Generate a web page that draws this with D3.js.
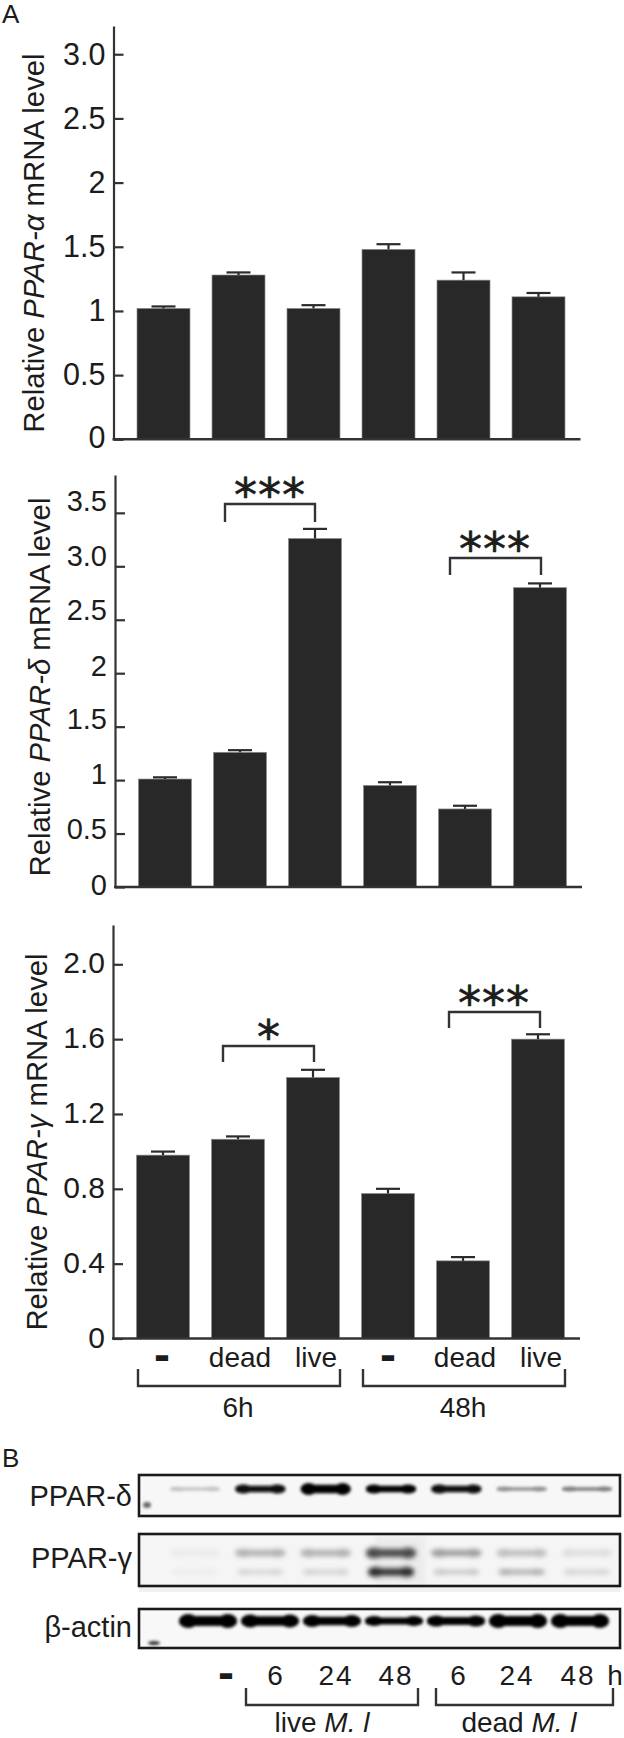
<!DOCTYPE html>
<html><head><meta charset="utf-8">
<script src="https://cdn.jsdelivr.net/npm/d3@7/dist/d3.min.js"></script>
<style>html,body{margin:0;padding:0;background:#fff}svg{display:block}text{font-family:"Liberation Sans",Arial,sans-serif;fill:#1c1c1c}</style>
</head><body><div id="c"></div>
<script>
// ---- data ----
const groups = ["-","dead","live","-","dead","live"];
const ids = ["a","b","c","d","e","f"];
const alphaMean = [1.02,1.28,1.02,1.48,1.24,1.11];
const alphaTop  = [1.035,1.30,1.045,1.52,1.30,1.14];
const deltaMean = [1.01,1.26,3.26,0.95,0.73,2.80];
const deltaTop  = [1.026,1.28,3.35,0.98,0.76,2.84];
const gammaMean = [0.98,1.065,1.395,0.775,0.415,1.60];
const gammaTop  = [0.999,1.08,1.436,0.80,0.435,1.626];
const alphaTicks = [[0,"0"],[0.5,"0.5"],[1,"1"],[1.5,"1.5"],[2,"2"],[2.5,"2.5"],[3,"3.0"]];
const deltaTicks = [[0,"0"],[0.5,"0.5"],[1,"1"],[1.5,"1.5"],[2,"2"],[2.5,"2.5"],[3,"3.0"],[3.5,"3.5"]];
const gammaTicks = [[0,"0"],[0.4,"0.4"],[0.8,"0.8"],[1.2,"1.2"],[1.6,"1.6"],[2,"2.0"]];
const lanes = ["-","L6","L24","L48","D6","D24","D48"];
const laneLabels = ["-","6","24","48","6","24","48"];
const deltaBand = [0.2,0.97,1,1,0.97,0.42,0.5];
const gammaUpper = [0.05,0.3,0.3,0.72,0.38,0.24,0.1];
const gammaLower = [0.04,0.14,0.15,0.85,0.2,0.32,0.14];
const actinBand = [1,1,1,1,1,1,1];

// ---- drawing ----
const W=624,H=1738;
const svg=d3.select("#c").append("svg").attr("width",W).attr("height",H).attr("viewBox",[0,0,W,H]);
svg.append("rect").attr("width",W).attr("height",H).attr("fill","#fff");
const defs=svg.append("defs");
defs.append("filter").attr("id","b1").attr("x","-20%").attr("y","-60%").attr("width","140%").attr("height","220%")
  .append("feGaussianBlur").attr("stdDeviation",1.6);
defs.append("filter").attr("id","b2").attr("x","-20%").attr("y","-80%").attr("width","140%").attr("height","260%")
  .append("feGaussianBlur").attr("stdDeviation",2.4);

const barFill="#282828";

function panel(o){
  const g=svg.append("g").attr("transform",`translate(${o.x},0)`);
  const x=d3.scaleBand().domain(ids).range([23.5,451.5]).paddingInner(22/75).paddingOuter(0);
  const y=d3.scaleLinear().domain([0,o.max]).range([o.base,o.top]);
  g.selectAll("rect.bar").data(ids).join("rect").attr("class","bar")
    .attr("x",d=>x(d)).attr("width",x.bandwidth())
    .attr("y",(d,i)=>y(o.mean[i])).attr("height",(d,i)=>o.base-y(o.mean[i]))
    .attr("fill",barFill).attr("stroke","#8d8d8d").attr("stroke-width",0.7);
  const cx=d=>x(d)+x.bandwidth()/2;
  g.selectAll("line.e").data(ids).join("line").attr("class","e")
    .attr("x1",cx).attr("x2",cx).attr("y1",(d,i)=>y(o.mean[i])).attr("y2",(d,i)=>y(o.top_[i]))
    .attr("stroke","#2b2b2b").attr("stroke-width",2.2);
  g.selectAll("line.c").data(ids).join("line").attr("class","c")
    .attr("x1",d=>cx(d)-12).attr("x2",d=>cx(d)+12).attr("y1",(d,i)=>y(o.top_[i])).attr("y2",(d,i)=>y(o.top_[i]))
    .attr("stroke","#2b2b2b").attr("stroke-width",2.2);
  const axis=d3.axisLeft(y).tickValues(o.ticks.map(t=>t[0])).tickFormat(v=>o.ticks.find(t=>t[0]===v)[1])
    .tickSizeInner(-10).tickSizeOuter(0).tickPadding(8);
  const ag=g.append("g").call(axis);
  ag.selectAll("path,line").attr("stroke","#333").attr("stroke-width",2.2);
  ag.selectAll("text").attr("font-size",o.fs).attr("font-family",'"Liberation Sans"').attr("fill","#1c1c1c")
    .attr("transform",(d,i)=>`translate(0,${o.labelShift(i)})`);
  g.append("line").attr("x1",-1).attr("x2",467).attr("y1",o.base).attr("y2",o.base).attr("stroke","#333").attr("stroke-width",2.4);
  const t=svg.append("text").attr("transform",`translate(${o.tx},${o.ty}) rotate(-90)`).attr("text-anchor","middle").attr("font-size",o.tfs);
  t.append("tspan").text("Relative ");
  t.append("tspan").attr("font-style","italic").text("PPAR-"+o.greek);
  t.append("tspan").text(" mRNA level");
}
function bracket(x1,x2,yTop,yBot,down){
  const p=d3.path();
  if(down){p.moveTo(x1,yTop);p.lineTo(x1,yBot);p.lineTo(x2,yBot);p.lineTo(x2,yTop);}
  else{p.moveTo(x1,yBot);p.lineTo(x1,yTop);p.lineTo(x2,yTop);p.lineTo(x2,yBot);}
  svg.append("path").attr("d",p.toString()).attr("fill","none").attr("stroke","#333").attr("stroke-width",2.4);
}
function stars(s,xc,yc){
  svg.append("text").attr("x",xc).attr("y",yc).attr("text-anchor","middle").attr("font-size",46).attr("letter-spacing","1px")
    .style("font-family",'"DejaVu Sans"').attr("fill","#1a1a1a").attr("stroke","#1a1a1a").attr("stroke-width",0.6).text(s);
}
svg.append("text").attr("x",2).attr("y",23).attr("font-size",26).text("A");
svg.append("text").attr("x",2).attr("y",1467).attr("font-size",26).text("B");

const deltaShift=[-2,-4,-6,-7,-7,-10,-10,-12];
panel({x:113.5,base:439.3,top:26,max:3.22,mean:alphaMean,top_:alphaTop,ticks:alphaTicks,fs:30.5,tfs:29.3,tx:44,ty:243,greek:"α",labelShift:i=>i===0?-2:0});
panel({x:115,base:887,top:475,max:3.854,mean:deltaMean,top_:deltaTop,ticks:deltaTicks,fs:29,tfs:29.3,tx:50,ty:687,greek:"δ",labelShift:i=>deltaShift[i]});
panel({x:113,base:1338.5,top:925,max:2.21,mean:gammaMean,top_:gammaTop,ticks:gammaTicks,fs:30,tfs:29.3,tx:47,ty:1142,greek:"γ",labelShift:()=>-1});

bracket(225,315,504,522); stars("***",270,511);
bracket(450,541,558,575); stars("***",495,565);
bracket(223,314,1046,1062); stars("*",269,1053);
bracket(449,540,1012,1028); stars("***",494,1019);

const xLab=[162,240,316,388,465,541];
svg.selectAll("text.g").data(groups).join("text").attr("class","g")
  .attr("x",(d,i)=>xLab[i]).attr("y",d=>d==="-"?1371:1367).attr("text-anchor","middle").attr("font-size",d=>d==="-"?48:28)
  .attr("font-weight",d=>d==="-"?"bold":"normal").text(d=>d);
bracket(138,340,1369,1386,true); bracket(363,565,1369,1386,true);
svg.append("text").attr("x",238).attr("y",1417).attr("text-anchor","middle").attr("font-size",28).text("6h");
svg.append("text").attr("x",463).attr("y",1417).attr("text-anchor","middle").attr("font-size",28).text("48h");

// ---- blots ----
const boxX=[139,620];
const laneX=d3.scalePoint().domain(lanes).range([195,587]);
const actinX=d3.scalePoint().domain(lanes).range([208,580]);
const shade=d3.scaleLinear().domain([0,1]).range(["#f6f6f6","#050505"]);
function blotBox(y1,y2,bg){
  svg.append("rect").attr("x",boxX[0]).attr("y",y1).attr("width",boxX[1]-boxX[0]).attr("height",y2-y1).attr("fill",bg);
}
function boxFrame(y1,y2){
  svg.append("rect").attr("x",boxX[0]).attr("y",y1).attr("width",boxX[1]-boxX[0]).attr("height",y2-y1)
    .attr("fill","none").attr("stroke","#1a1a1a").attr("stroke-width",2.6);
}
function bands(values,sc,yc,w,hFn,filt){
  const g=svg.append("g").attr("filter",`url(#${filt})`);
  lanes.forEach((l,i)=>{
    const v=values[i], c=sc(l), h=hFn(v,i);
    g.append("rect").attr("x",c-w/2).attr("y",yc-h*0.36).attr("width",w).attr("height",h*0.72).attr("rx",h*0.36).attr("fill",shade(v));
    g.append("ellipse").attr("cx",c-w/2+w*0.16).attr("cy",yc).attr("rx",w*0.16).attr("ry",h/2).attr("fill",shade(v));
    g.append("ellipse").attr("cx",c+w/2-w*0.16).attr("cy",yc).attr("rx",w*0.16).attr("ry",h/2).attr("fill",shade(v));
  });
}
function smudge(cx,cy,rx,ry,col){
  svg.append("ellipse").attr("cx",cx).attr("cy",cy).attr("rx",rx).attr("ry",ry).attr("fill",col).attr("filter","url(#b1)");
}
blotBox(1475,1516,"#f7f7f7");
bands(deltaBand,laneX,1489,50,(v,i)=>i===2?12:(v>0.9?9:5),"b1");
smudge(147,1505,4,3,"#666");
boxFrame(1475,1516);

svg.append("rect").attr("x",139).attr("y",1586).attr("width",481).attr("height",6).attr("fill","#f1f1f1");
blotBox(1534,1586,"#f5f5f5");
svg.append("rect").attr("x",375).attr("y",1536).attr("width",50).attr("height",48).attr("fill","#ececec").attr("filter","url(#b2)");
bands(gammaUpper,laneX,1553,50,v=>v>0.5?11:8,"b2");
bands(gammaLower,laneX,1572,46,v=>v>0.5?10:6,"b2");
boxFrame(1534,1586);

blotBox(1609,1648,"#f8f8f8");
bands(actinBand,actinX,1621,58,(v,i)=>[14,13,12,10,11,14,14][i],"b1");
smudge(154,1643,6,2,"#333");
boxFrame(1609,1648);

[["PPAR-δ",1506],["PPAR-γ",1568],["β-actin",1637]].forEach(([s,y])=>{
  svg.append("text").attr("x",132).attr("y",y).attr("text-anchor","end").attr("font-size",29).text(s);
});
const laneLabX=[226,275,336,396,458,517,578];
svg.selectAll("text.l").data(laneLabels).join("text").attr("class","l")
  .attr("x",(d,i)=>laneLabX[i]).attr("y",d=>d==="-"?1689:1685).attr("text-anchor","middle").attr("font-size",d=>d==="-"?48:28)
  .attr("letter-spacing",d=>d.length>1?"2px":"0").attr("font-weight",d=>d==="-"?"bold":"normal").text(d=>d);
svg.append("text").attr("x",615).attr("y",1685).attr("text-anchor","middle").attr("font-size",28).text("h");
bracket(246,418,1688,1705,true); bracket(436,613,1688,1705,true);
function mlabel(pre,xc){
  const t=svg.append("text").attr("x",xc).attr("y",1732).attr("text-anchor","middle").attr("font-size",28);
  t.append("tspan").text(pre+" ");
  t.append("tspan").attr("font-style","italic").text("M. l");
}
mlabel("live",322); mlabel("dead",519);
</script></body></html>
